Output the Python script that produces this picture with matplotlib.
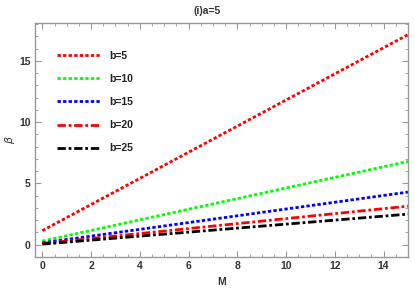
import matplotlib
matplotlib.use("Agg")
import matplotlib.pyplot as plt
from matplotlib.ticker import MultipleLocator

M = [0, 15]
beta_b5 = [1.15, 17.15]
beta_b10 = [0.3, 6.8]
beta_b15 = [0.15, 4.3]
beta_b20 = [0.1, 3.15]
beta_b25 = [0.05, 2.5]

series = [
    ("b=5", beta_b5, "#ff0000", (0, (1.2, 0.8))),
    ("b=10", beta_b10, "#00ff00", (0, (1.2, 0.8))),
    ("b=15", beta_b15, "#0000ff", (0, (1.2, 0.8))),
    ("b=20", beta_b20, "#ff0000", (0, (3, 1, 1, 1))),
    ("b=25", beta_b25, "#000000", (0, (3, 1, 1, 1))),
]

plt.rcParams['font.family'] = ['Liberation Sans', 'DejaVu Sans']
fig = plt.figure(figsize=(4.15, 2.88), dpi=100)
ax = fig.add_axes([35 / 415, 31 / 288, 373 / 415, 234 / 288])

for label, vals, color, ls in series:
    ax.plot(M, vals, color=color, linestyle=ls, linewidth=2, label=label)

ax.set_xlim(-0.3, 15.0)
ax.set_ylim(-1.0, 18.1)
ax.xaxis.set_major_locator(MultipleLocator(2))
ax.xaxis.set_minor_locator(MultipleLocator(0.5))
ax.yaxis.set_major_locator(MultipleLocator(5))
ax.yaxis.set_minor_locator(MultipleLocator(1))
ax.tick_params(which='both', direction='in', top=True, right=True,
               color='#999999', labelsize=7.5, pad=3)
ax.tick_params(which='major', length=4, width=0.8)
ax.tick_params(which='minor', length=2, width=0.6)
for lbl in ax.get_xticklabels() + ax.get_yticklabels():
    lbl.set_fontweight('bold')
    lbl.set_color('#333333')
for s in ax.spines.values():
    s.set_color('#999999')
    s.set_linewidth(1)

ax.set_xlabel('M', fontsize=7.5, fontweight='bold', color='#333333', labelpad=4)
ax.set_ylabel(r'$\beta$', fontsize=8, color='#333333', labelpad=2)
fig.text(0.5, 0.95, '(i)a=5', ha='center', fontsize=7.5, fontweight='bold', color='#333333')

leg = ax.legend(loc='upper left', bbox_to_anchor=(0.035, 0.92), frameon=False,
                handlelength=4.2, labelspacing=1.25, handletextpad=0.8,
                prop={'size': 7.5, 'weight': 'bold'})
for t in leg.get_texts():
    t.set_color('#222222')

fig.savefig('out.png', dpi=100)
